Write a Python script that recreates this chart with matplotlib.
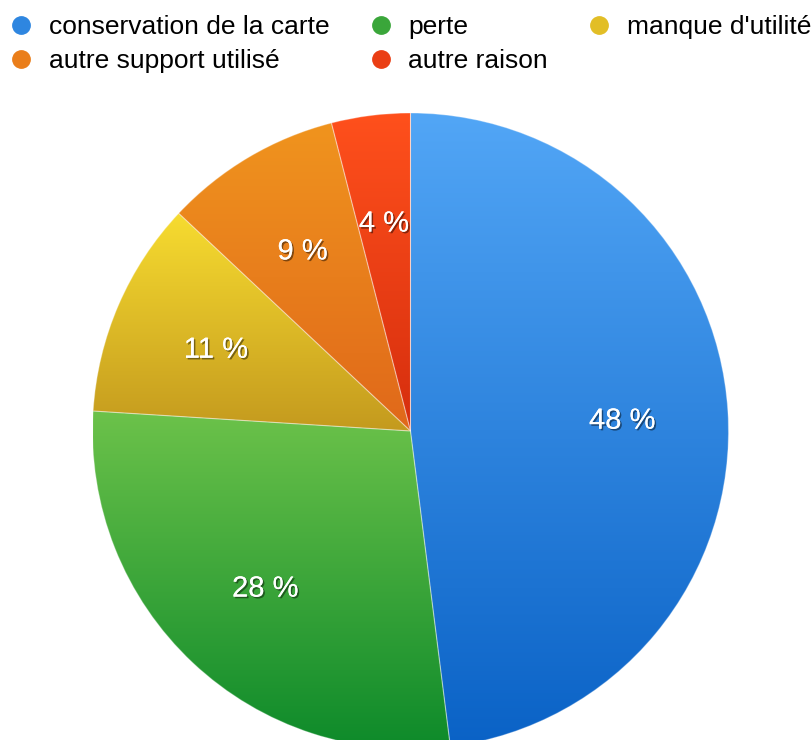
import numpy as np
import matplotlib
matplotlib.use("Agg")
import matplotlib.pyplot as plt
import matplotlib.patheffects as pe
from matplotlib.colors import LinearSegmentedColormap
from matplotlib.lines import Line2D

plt.rcParams['font.family'] = ['Liberation Sans', 'DejaVu Sans']

labels = ["conservation de la carte", "perte", "manque d'utilité",
          "autre support utilisé", "autre raison"]
values = [48, 28, 11, 9, 4]
top_colors = ["#52A6F6", "#6CC24A", "#F7DC30", "#F0941E", "#FF501C"]
bottom_colors = ["#0A62C6", "#0D8A2A", "#C49A1E", "#E0681A", "#D62E0E"]
mid_colors = ["#2E86E0", "#3AA63A", "#E2BE26", "#EA7E1A", "#EA3E14"]

W, H = 811, 740
fig = plt.figure(figsize=(W / 100, H / 100), dpi=100)
ax = fig.add_axes([0, 0, 1, 1])

cx, cy, R = 410.5, H - 431, 318
wedges, texts = ax.pie(values, center=(cx, cy), radius=R, startangle=90,
                       counterclock=False, labels=[f"{v} %" for v in values],
                       labeldistance=0.667, frame=True,
                       wedgeprops=dict(edgecolor=(1, 1, 1, 0.3), linewidth=0.8),
                       textprops=dict(color='white', fontsize=21, ha='center', va='center'))
ax.set_xlim(0, W)
ax.set_ylim(0, H)
ax.set_aspect('equal')
ax.axis('off')

for w, ct, cb in zip(wedges, top_colors, bottom_colors):
    th = np.radians(np.linspace(w.theta1, w.theta2, 200))
    xs = np.concatenate([[cx], cx + R * np.cos(th)])
    ys = np.concatenate([[cy], cy + R * np.sin(th)])
    y0, y1 = ys.min(), ys.max()
    x0, x1 = xs.min(), xs.max()
    cmap = LinearSegmentedColormap.from_list("g", [cb, ct])
    grad = np.linspace(0, 1, 256).reshape(-1, 1)
    im = ax.imshow(grad, extent=(x0, x1, y0, y1), origin='lower', cmap=cmap,
                   aspect='auto', zorder=0.5, interpolation='bilinear')
    im.set_clip_path(w)
    w.set_facecolor('none')
    w.set_zorder(1)

for t in texts:
    x, y = t.get_position()
    t.set_position((x, y - 3))
    t.set_zorder(3)
    t.set_path_effects([pe.withSimplePatchShadow(offset=(1.2, -1.2),
                                                 shadow_rgbFace='black', alpha=0.45),
                        pe.Normal()])

handles = [Line2D([], [], marker='o', linestyle='none', markersize=12.5,
                  markerfacecolor=c, markeredgecolor=c) for c in mid_colors]
order = [0, 3, 1, 4, 2]
fig.legend([handles[i] for i in order], [labels[i] for i in order],
           ncol=3, loc='upper left', bbox_to_anchor=(-0.0033, 0.9973),
           frameon=False, fontsize=19, handlelength=0.8, handletextpad=0.65,
           columnspacing=1.54, labelspacing=0.37, borderaxespad=0.3,
           borderpad=0.2)

fig.savefig("out.png", dpi=100)
